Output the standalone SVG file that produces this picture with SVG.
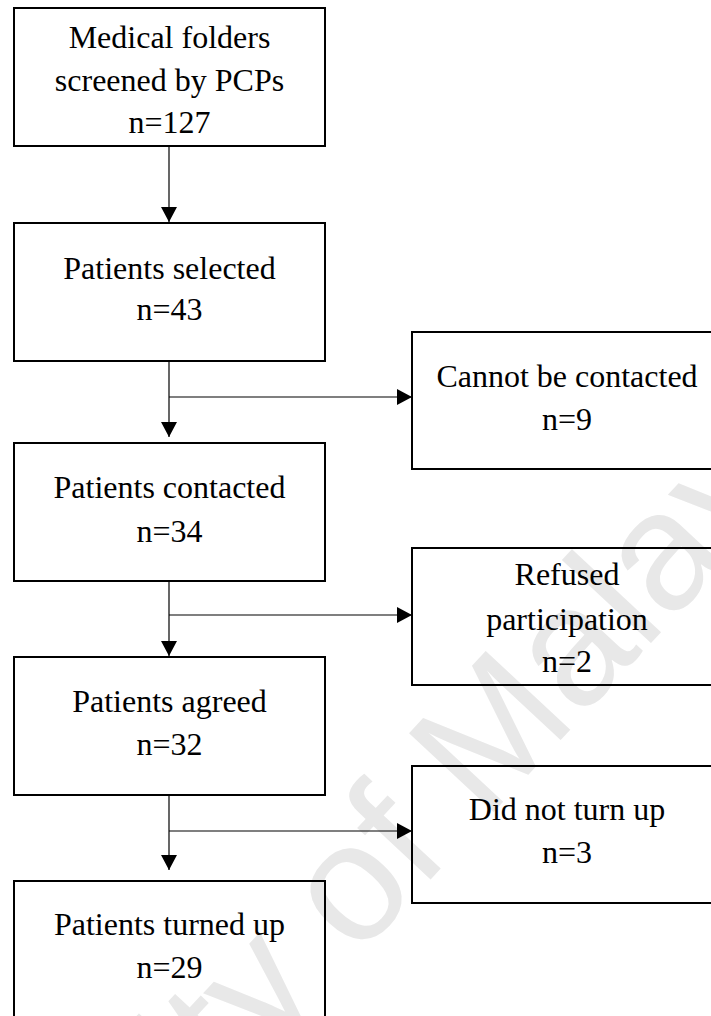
<svg xmlns="http://www.w3.org/2000/svg" width="711" height="1016" viewBox="0 0 711 1016">
  <style>
    .box { fill: none; stroke: #000; stroke-width: 2; }
    .lbl { font-family: "Liberation Serif", "Times New Roman", serif; font-size: 32px; fill: #000; text-anchor: middle; }
    .link { fill: none; stroke: #000; stroke-width: 1.2; }
    .wm { font-family: "Liberation Sans", Arial, sans-serif; font-size: 168px; fill: #e8e8e8; }
  </style>
  <defs>
    <marker id="arrow" viewBox="0 0 15 16" refX="15" refY="8" markerWidth="15" markerHeight="16" markerUnits="userSpaceOnUse" orient="auto">
      <path d="M0,0 L15,8 L0,16 Z" fill="#000"/>
    </marker>
  </defs>

  <rect width="711" height="1016" fill="#fff"/>

  <!-- background watermark -->
  <text class="wm" transform="translate(-178,1532) rotate(-47)" x="0" y="0">University of Malaya</text>

  <g id="connectors">
    <line class="link" x1="169" y1="147" x2="169" y2="222" marker-end="url(#arrow)"/>
    <line class="link" x1="169" y1="362" x2="169" y2="437" marker-end="url(#arrow)"/>
    <line class="link" x1="169" y1="397" x2="412" y2="397" marker-end="url(#arrow)"/>
    <line class="link" x1="169" y1="582" x2="169" y2="656" marker-end="url(#arrow)"/>
    <line class="link" x1="169" y1="615" x2="412" y2="615" marker-end="url(#arrow)"/>
    <line class="link" x1="169" y1="796" x2="169" y2="870" marker-end="url(#arrow)"/>
    <line class="link" x1="169" y1="831" x2="412" y2="831" marker-end="url(#arrow)"/>
  </g>

  <g id="screened">
    <rect class="box" x="14" y="8" width="311" height="138"/>
    <text class="lbl" x="169.5" y="48">Medical folders</text>
    <text class="lbl" x="169.5" y="91">screened by PCPs</text>
    <text class="lbl" x="169.5" y="133">n=127</text>
  </g>

  <g id="selected">
    <rect class="box" x="14" y="223" width="311" height="138"/>
    <text class="lbl" x="169.5" y="279">Patients selected</text>
    <text class="lbl" x="169.5" y="320">n=43</text>
  </g>

  <g id="not-contacted">
    <rect class="box" x="412" y="332" width="310" height="137"/>
    <text class="lbl" x="567" y="387">Cannot be contacted</text>
    <text class="lbl" x="567" y="430">n=9</text>
  </g>

  <g id="contacted">
    <rect class="box" x="14" y="443" width="311" height="138"/>
    <text class="lbl" x="169.5" y="498">Patients contacted</text>
    <text class="lbl" x="169.5" y="542">n=34</text>
  </g>

  <g id="refused">
    <rect class="box" x="412" y="548" width="310" height="137"/>
    <text class="lbl" x="567" y="585">Refused</text>
    <text class="lbl" x="567" y="630">participation</text>
    <text class="lbl" x="567" y="672">n=2</text>
  </g>

  <g id="agreed">
    <rect class="box" x="14" y="657" width="311" height="138"/>
    <text class="lbl" x="169.5" y="712">Patients agreed</text>
    <text class="lbl" x="169.5" y="755">n=32</text>
  </g>

  <g id="no-show">
    <rect class="box" x="412" y="766" width="310" height="137"/>
    <text class="lbl" x="567" y="820">Did not turn up</text>
    <text class="lbl" x="567" y="863">n=3</text>
  </g>

  <g id="turned-up">
    <rect class="box" x="14" y="881" width="311" height="138"/>
    <text class="lbl" x="169.5" y="935">Patients turned up</text>
    <text class="lbl" x="169.5" y="978">n=29</text>
  </g>
</svg>
